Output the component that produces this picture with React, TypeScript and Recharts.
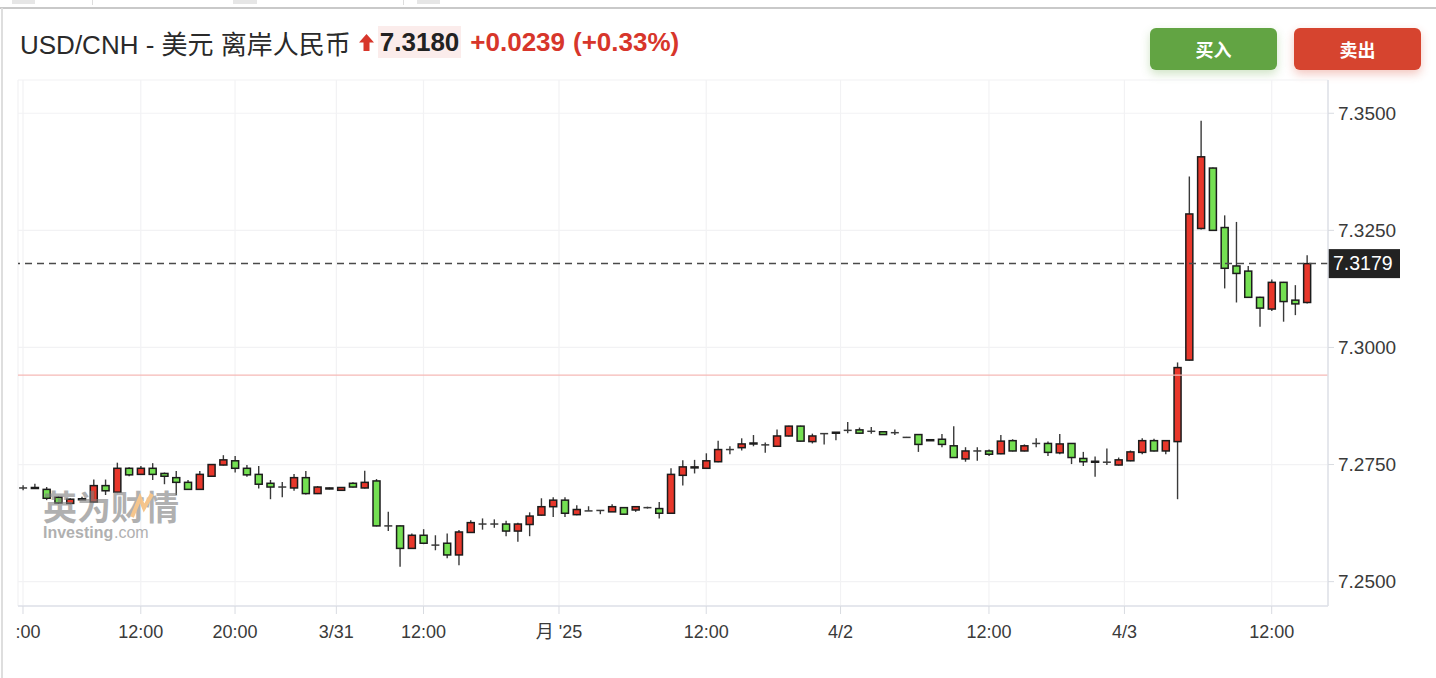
import React from 'react'
import { ComposedChart, Bar, XAxis, YAxis, CartesianGrid, ReferenceLine } from 'recharts'

// hourly candles, USD/CNH
const opens = [
  7.2700, 7.2699, 7.2697, 7.2680, 7.2667, 7.2675, 7.2670, 7.2705, 7.2691, 7.2742,
  7.2729, 7.2742, 7.2731, 7.2722, 7.2712, 7.2697, 7.2725, 7.2749, 7.2758, 7.2742,
  7.2729, 7.2710, 7.2702, 7.2700, 7.2722, 7.2688, 7.2698, 7.2695, 7.2710, 7.2700,
  7.2715, 7.2619, 7.2619, 7.2571, 7.2599, 7.2578, 7.2582, 7.2557, 7.2605, 7.2623,
  7.2623, 7.2623, 7.2608, 7.2622, 7.2642, 7.2660, 7.2674, 7.2643, 7.2651, 7.2652,
  7.2649, 7.2658, 7.2653, 7.2658, 7.2656, 7.2646, 7.2727, 7.2743, 7.2742, 7.2756,
  7.2782, 7.2786, 7.2794, 7.2792, 7.2789, 7.2811, 7.2832, 7.2799, 7.2816, 7.2817,
  7.2823, 7.2824, 7.2821, 7.2820, 7.2818, 7.2808, 7.2814, 7.2801, 7.2804, 7.2790,
  7.2762, 7.2779, 7.2779, 7.2773, 7.2801, 7.2779, 7.2795, 7.2795, 7.2775, 7.2795,
  7.2763, 7.2755, 7.2755, 7.2749, 7.2758, 7.2776, 7.2801, 7.2779, 7.2799, 7.2973,
  7.3254, 7.3383, 7.3256, 7.3174, 7.3163, 7.3107, 7.3082, 7.3139, 7.3101, 7.3096,
]
const highs = [
  7.2706, 7.2709, 7.2702, 7.2682, 7.2678, 7.2681, 7.2718, 7.2718, 7.2754, 7.2744,
  7.2747, 7.2753, 7.2733, 7.2736, 7.2717, 7.2736, 7.2751, 7.2770, 7.2768, 7.2749,
  7.2747, 7.2717, 7.2713, 7.2730, 7.2736, 7.2704, 7.2701, 7.2702, 7.2712, 7.2737,
  7.2719, 7.2649, 7.2620, 7.2603, 7.2612, 7.2599, 7.2603, 7.2610, 7.2631, 7.2635,
  7.2633, 7.2630, 7.2626, 7.2648, 7.2678, 7.2680, 7.2680, 7.2663, 7.2661, 7.2652,
  7.2665, 7.2659, 7.2661, 7.2660, 7.2670, 7.2742, 7.2759, 7.2760, 7.2774, 7.2801,
  7.2789, 7.2806, 7.2813, 7.2797, 7.2825, 7.2833, 7.2833, 7.2816, 7.2817, 7.2819,
  7.2841, 7.2829, 7.2830, 7.2821, 7.2825, 7.2809, 7.2815, 7.2803, 7.2815, 7.2832,
  7.2787, 7.2787, 7.2782, 7.2813, 7.2804, 7.2793, 7.2806, 7.2799, 7.2815, 7.2796,
  7.2777, 7.2767, 7.2784, 7.2765, 7.2780, 7.2806, 7.2805, 7.2802, 7.2968, 7.3365,
  7.3484, 7.3384, 7.3282, 7.3268, 7.3174, 7.3108, 7.3145, 7.3140, 7.3133, 7.3197,
]
const lows = [
  7.2695, 7.2699, 7.2674, 7.2666, 7.2665, 7.2675, 7.2669, 7.2685, 7.2689, 7.2725,
  7.2729, 7.2717, 7.2708, 7.2685, 7.2697, 7.2697, 7.2724, 7.2748, 7.2733, 7.2724,
  7.2699, 7.2676, 7.2680, 7.2694, 7.2686, 7.2687, 7.2697, 7.2694, 7.2701, 7.2699,
  7.2618, 7.2608, 7.2532, 7.2570, 7.2580, 7.2567, 7.2550, 7.2535, 7.2604, 7.2611,
  7.2615, 7.2597, 7.2585, 7.2597, 7.2641, 7.2638, 7.2638, 7.2642, 7.2651, 7.2644,
  7.2649, 7.2643, 7.2649, 7.2656, 7.2635, 7.2645, 7.2705, 7.2731, 7.2741, 7.2755,
  7.2772, 7.2780, 7.2789, 7.2775, 7.2788, 7.2810, 7.2799, 7.2795, 7.2793, 7.2802,
  7.2817, 7.2816, 7.2816, 7.2813, 7.2813, 7.2808, 7.2777, 7.2801, 7.2787, 7.2764,
  7.2756, 7.2758, 7.2768, 7.2772, 7.2778, 7.2778, 7.2787, 7.2768, 7.2772, 7.2751,
  7.2747, 7.2724, 7.2749, 7.2748, 7.2757, 7.2772, 7.2778, 7.2772, 7.2676, 7.2972,
  7.3252, 7.3249, 7.3126, 7.3096, 7.3106, 7.3044, 7.3078, 7.3055, 7.3069, 7.3094,
]
const closes = [
  7.2700, 7.2701, 7.2678, 7.2668, 7.2676, 7.2677, 7.2705, 7.2694, 7.2742, 7.2728,
  7.2742, 7.2729, 7.2725, 7.2712, 7.2697, 7.2729, 7.2750, 7.2760, 7.2742, 7.2728,
  7.2708, 7.2702, 7.2702, 7.2722, 7.2688, 7.2702, 7.2700, 7.2701, 7.2702, 7.2712,
  7.2619, 7.2619, 7.2571, 7.2599, 7.2582, 7.2578, 7.2557, 7.2606, 7.2626, 7.2623,
  7.2623, 7.2608, 7.2623, 7.2640, 7.2660, 7.2674, 7.2646, 7.2654, 7.2651, 7.2652,
  7.2660, 7.2644, 7.2660, 7.2658, 7.2646, 7.2729, 7.2745, 7.2745, 7.2758, 7.2782,
  7.2782, 7.2794, 7.2796, 7.2792, 7.2811, 7.2832, 7.2800, 7.2811, 7.2816, 7.2819,
  7.2823, 7.2817, 7.2821, 7.2814, 7.2818, 7.2808, 7.2793, 7.2803, 7.2793, 7.2765,
  7.2779, 7.2779, 7.2772, 7.2800, 7.2779, 7.2790, 7.2795, 7.2776, 7.2794, 7.2765,
  7.2756, 7.2757, 7.2755, 7.2760, 7.2777, 7.2801, 7.2779, 7.2801, 7.2957, 7.3285,
  7.3407, 7.3250, 7.3169, 7.3158, 7.3107, 7.3084, 7.3139, 7.3098, 7.3093, 7.3179,
]

const xTicks = [1, 11, 19, 27.6, 35, 46.5, 59, 70.4, 83, 94.5, 107]
const xLabels = ['2:00', '12:00', '20:00', '3/31', '12:00', "月 '25", '12:00', '4/2', '12:00', '4/3', '12:00']
const yTicks = [7.25, 7.275, 7.3, 7.325, 7.35]

const prevClose = 7.2941
const lastPrice = '7.3180'
const change = '+0.0239'
const changePct = '(+0.33%)'

const data = opens.map((o, i) => ({
  i: i + 1,
  open: o,
  high: highs[i],
  low: lows[i],
  close: closes[i],
}))
const lastClose = closes[closes.length - 1]

const FONT = '"Liberation Sans", "Noto Sans CJK SC", Arial, sans-serif'
const UP = '#e8372b'
const DOWN = '#74e052'

const Candle = (props: any) => {
  const { x, y, width, height, payload } = props
  if (!payload) return null
  const { open, close, high, low } = payload
  const top = Math.min(y, y + height)
  const h = Math.abs(height)
  const cx = x + width / 2
  const k = high > low ? h / (high - low) : 0
  const yOf = (v: number) => top + (high - v) * k
  const bTop = yOf(Math.max(open, close))
  const bBot = yOf(Math.min(open, close))
  const bw = 7
  return (
    <g>
      {h > 0 && <line x1={cx} x2={cx} y1={top} y2={top + h} stroke="#3a3a3a" strokeWidth={1.4} />}
      {open === close ? (
        <line x1={cx - bw / 2 - 0.5} x2={cx + bw / 2 + 0.5} y1={bTop} y2={bTop} stroke="#3a3a3a" strokeWidth={1.5} />
      ) : (
        <rect
          x={cx - bw / 2}
          y={bTop}
          width={bw}
          height={Math.max(bBot - bTop, 1)}
          fill={close > open ? UP : DOWN}
          stroke="#1c1c1c"
          strokeWidth={1.5}
        />
      )}
    </g>
  )
}

const PriceTag = (props: any) => {
  const vb = props.viewBox
  if (!vb) return null
  const x = vb.x + vb.width
  const y = vb.y
  return (
    <g>
      <rect x={x} y={y - 14.5} width={72} height={29} fill="#222222" />
      <text x={x + 5} y={y + 1} fill="#ffffff" fontSize={19.5} fontFamily={FONT} dominantBaseline="middle">
        {lastClose.toFixed(4)}
      </text>
    </g>
  )
}

export default function App() {
  return (
    <div style={{ position: 'absolute', left: 0, top: 0, width: 1436, height: 678, background: '#fff', overflow: 'hidden', fontFamily: FONT }}>
      {/* top strip remnants */}
      <div style={{ position: 'absolute', left: 0, top: 7, width: 1436, height: 1.5, background: '#c9c9c9' }} />
      {[[12, 23], [233, 24], [417, 23]].map(([l, w]) => (
        <div key={l} style={{ position: 'absolute', left: l, top: 0, width: w, height: 4, background: '#e6e6e6' }} />
      ))}
      {[92, 403].map((l) => (
        <div key={l} style={{ position: 'absolute', left: l, top: 0, width: 1, height: 5, background: '#dddddd' }} />
      ))}
      <div style={{ position: 'absolute', left: 1, top: 8, width: 1.5, height: 670, background: '#dedede' }} />

      {/* header */}
      <div style={{ position: 'absolute', left: 20, top: 26, height: 32, display: 'flex', alignItems: 'center', whiteSpace: 'nowrap' }}>
        <span style={{ fontSize: 26, color: '#2a2a2a' }}>USD/CNH - 美元 离岸人民币</span>
        <svg width={15} height={17} style={{ marginLeft: 8, marginRight: 4 }}>
          <path d="M7.5 0 L15 8.5 L10.5 8.5 L10.5 17 L4.5 17 L4.5 8.5 L0 8.5 Z" fill="#d7362b" />
        </svg>
        <span style={{ fontSize: 26, fontWeight: 700, color: '#222', background: '#fbeceb', padding: '0 2px', lineHeight: '32px' }}>{lastPrice}</span>
        <span style={{ fontSize: 26, fontWeight: 700, color: '#d7362b', marginLeft: 9 }}>{change}</span>
        <span style={{ fontSize: 26, fontWeight: 700, color: '#d7362b', marginLeft: 8 }}>{changePct}</span>
      </div>
      <div style={{ position: 'absolute', left: 1150, top: 28, width: 127, height: 42, borderRadius: 6, background: '#62a443', color: '#fff', fontSize: 18, fontWeight: 700, display: 'flex', alignItems: 'center', justifyContent: 'center', boxShadow: '0 4px 10px rgba(98,164,67,0.3)' }}>
        买入
      </div>
      <div style={{ position: 'absolute', left: 1294, top: 28, width: 127, height: 42, borderRadius: 6, background: '#d6442f', color: '#fff', fontSize: 18, fontWeight: 700, display: 'flex', alignItems: 'center', justifyContent: 'center', boxShadow: '0 4px 10px rgba(214,68,47,0.3)' }}>
        卖出
      </div>

      {/* chart */}
      <div style={{ position: 'absolute', left: 16, top: 70, width: 1420, height: 608, overflow: 'hidden' }}>
        <ComposedChart width={1420} height={608} data={data} margin={{ top: 10, right: 28, bottom: 32, left: 2 }}>
          <CartesianGrid stroke="#f2f2f4" strokeWidth={1.2} vertical horizontal />
          <XAxis
            dataKey="i"
            type="number"
            domain={[0.576, 111.78]}
            allowDataOverflow
            ticks={xTicks}
            interval={0}
            tickFormatter={(v: number) => xLabels[xTicks.indexOf(v)] ?? ''}
            height={40}
            axisLine={{ stroke: '#dfe2e8', strokeWidth: 1.5 }}
            tickLine={{ stroke: '#d8dbe1' }}
            tickSize={8}
            tickMargin={11}
            tick={{ fill: '#3a3a3a', fontSize: 18, fontFamily: FONT }}
          />
          <YAxis
            orientation="right"
            type="number"
            domain={[7.2448, 7.3571]}
            allowDataOverflow
            ticks={yTicks}
            interval={0}
            width={80}
            tickFormatter={(v: number) => v.toFixed(4)}
            axisLine={{ stroke: '#dfe2e8', strokeWidth: 1.5 }}
            tickLine={{ stroke: '#d8dbe1' }}
            tickSize={6}
            tickMargin={4}
            tick={{ fill: '#3a3a3a', fontSize: 19, fontFamily: FONT }}
          />
          <ReferenceLine y={prevClose} stroke="#f6b9b6" strokeWidth={1.2} />
          <Bar dataKey={(d: any) => [d.low, d.high]} barSize={8} shape={Candle} isAnimationActive={false} />
          <ReferenceLine y={lastClose} stroke="#4a4a4a" strokeWidth={1.5} strokeDasharray="7 5" label={<PriceTag />} />
        </ComposedChart>
      </div>

      {/* watermark */}
      <svg width={170} height={70} style={{ position: 'absolute', left: 40, top: 484, pointerEvents: 'none' }}>
        <g opacity={0.6}>
          <text x={3} y={36} fontSize={34} fontWeight={700} fill="#7c7c7c" fontFamily='"Noto Sans CJK SC", sans-serif'>
            英为财情
          </text>
          <path d="M92 33 L100 14 L104 24 L112 10" stroke="#f0a040" strokeWidth={4} fill="none" />
          <text x={3} y={54} fontSize={16} fontWeight={700} fill="#7c7c7c" fontFamily={FONT}>
            Investing
          </text>
          <text x={74} y={54} fontSize={16} fill="#7c7c7c" fontFamily={FONT}>
            .com
          </text>
        </g>
      </svg>
    </div>
  )
}
